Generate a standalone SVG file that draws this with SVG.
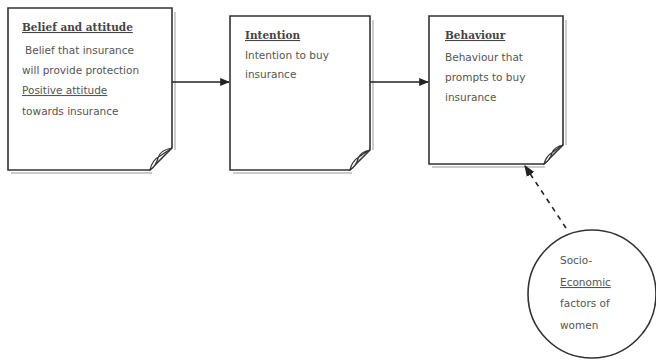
<svg xmlns="http://www.w3.org/2000/svg" width="656" height="364" viewBox="0 0 656 364">
<style>
.page{fill:#fff;stroke:#333;stroke-width:1.6}
.curl{fill:#fff;stroke:#333;stroke-width:1.2}
.shadow{fill:none;stroke:#ccc;stroke-width:2}
.t{font-family:"DejaVu Sans",Verdana,sans-serif;font-size:10.5px;fill:#555}
.h{font-family:"DejaVu Serif",Georgia,serif;font-size:10.5px;font-weight:bold;fill:#444;text-decoration:underline}
.con{stroke:#222;stroke-width:1.4;fill:none}
.dash{stroke:#222;stroke-width:1.6;fill:none;stroke-dasharray:5 5}
</style>
<defs>
<marker id="ah" viewBox="0 0 10 10" refX="9" refY="5" markerWidth="7" markerHeight="7" orient="auto">
<path d="M0,1 L10,5 L0,9 Z" fill="#222"/>
</marker>
</defs>
<g id="belief">
<path class="shadow" d="M11,173 H152 M175,12 V150"/>
<path class="page" d="M8,8 H172 V148 L150,170 H8 Z"/>
<path class="curl" d="M172,148 Q160,150 158,158 Q156,166 150,170 Q152,160 160,156 Q166,152 172,148 Z"/>
<text class="h" x="22" y="31">Belief and attitude</text>
<text class="t" x="25" y="54">Belief that insurance</text>
<text class="t" x="22" y="74">will provide protection</text>
<text class="t" x="22" y="94"><tspan text-decoration="underline">Positive attitude</tspan></text>
<text class="t" x="22" y="115">towards insurance</text>
</g>
<g id="intention">
<path class="shadow" d="M233,173 H352 M373,20 V150"/>
<path class="page" d="M230,16 H370 V150 L350,170 H230 Z"/>
<path class="curl" d="M370,150 Q360,152 358,159 Q356,166 350,170 Q352,161 359,157 Q364,153 370,150 Z"/>
<text class="h" x="245" y="39">Intention</text>
<text class="t" x="245" y="59">Intention to buy</text>
<text class="t" x="245" y="78">insurance</text>
</g>
<g id="behaviour">
<path class="shadow" d="M432,167 H545 M566,20 V145"/>
<path class="page" d="M429,16 H563 V145 L544,164 H429 Z"/>
<path class="curl" d="M563,145 Q554,147 552,153 Q550,160 544,164 Q546,156 553,152 Q558,148 563,145 Z"/>
<text class="h" x="445" y="39">Behaviour</text>
<text class="t" x="445" y="61">Behaviour that</text>
<text class="t" x="445" y="81">prompts to buy</text>
<text class="t" x="445" y="101">insurance</text>
</g>
<g id="socio">
<circle cx="592" cy="294" r="64" fill="#fff" stroke="#333" stroke-width="1.6"/>
<text class="t" x="560" y="264">Socio-</text>
<text class="t" x="560" y="286" text-decoration="underline">Economic</text>
<text class="t" x="560" y="307">factors of</text>
<text class="t" x="560" y="329">women</text>
</g>
<g id="connectors">
<line class="con" x1="172" y1="82" x2="229" y2="82" marker-end="url(#ah)"/>
<line class="con" x1="370" y1="82" x2="428" y2="82" marker-end="url(#ah)"/>
<line class="dash" x1="566" y1="228" x2="525" y2="166" marker-end="url(#ah)"/>
</g>
</svg>
